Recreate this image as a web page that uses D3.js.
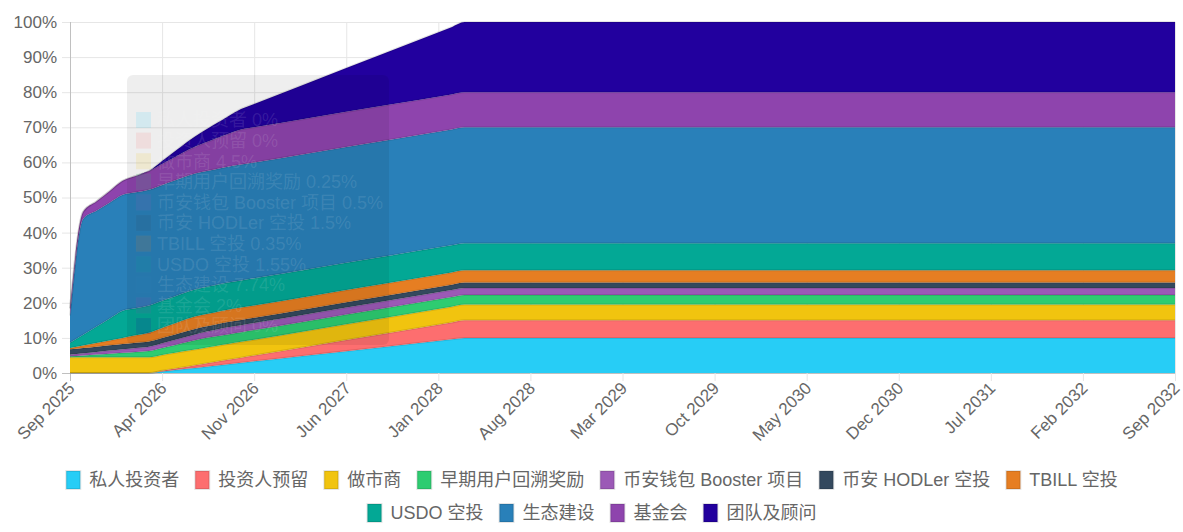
<!DOCTYPE html>
<html>
<head>
<meta charset="utf-8">
<script src="https://cdn.jsdelivr.net/npm/d3@7"></script>
<style>
  body { margin: 0; background: #fff; }
  svg { display: block; font-family: "Liberation Sans", Arial, "Noto Sans CJK SC", sans-serif; }
</style>
</head>
<body>
<svg id="chart" width="1183" height="532"></svg>
<script>
const months = [0, 1, 2, 3, 4, 5, 6, 7, 8, 9, 10, 11, 12, 13, 14, 18, 24, 29, 30, 84]

const tickMonths = [0, 7, 14, 21, 28, 35, 42, 49, 56, 63, 70, 77, 84]
const tickLabels = ["Sep 2025", "Apr 2026", "Nov 2026", "Jun 2027", "Jan 2028", "Aug 2028", "Mar 2029",
                    "Oct 2029", "May 2030", "Dec 2030", "Jul 2031", "Feb 2032", "Sep 2032"]

// unlocked share of total supply, % (bottom of the stack first)
const privateInvestors = [0, 0, 0, 0, 0, 0, 0, 0.42, 0.83, 1.25, 1.67, 2.08, 2.5, 2.92, 3.33, 5, 7.5, 9.58, 10, 10]
const investorReserve  = [0, 0, 0, 0, 0, 0, 0, 0.21, 0.42, 0.63, 0.83, 1.04, 1.25, 1.46, 1.67, 2.5, 3.75, 4.79, 5, 5]
const marketMaker      = [4.5, 4.5, 4.5, 4.5, 4.5, 4.5, 4.5, 4.5, 4.5, 4.5, 4.5, 4.5, 4.5, 4.5, 4.5, 4.5, 4.5, 4.5, 4.5, 4.5]
const earlyUsers       = [0.25, 0.5, 0.75, 1, 1.25, 1.5, 1.75, 2, 2.25, 2.5, 2.75, 2.75, 2.75, 2.75, 2.75, 2.75, 2.75, 2.75, 2.75, 2.75]
const walletBooster    = [0.5, 0.625, 0.75, 0.875, 1, 1.125, 1.25, 1.375, 1.5, 1.625, 1.75, 1.875, 2, 2, 2, 2, 2, 2, 2, 2]
const hodlerAirdrop    = [1.5, 1.5, 1.5, 1.5, 1.5, 1.5, 1.5, 1.5, 1.5, 1.5, 1.5, 1.5, 1.5, 1.5, 1.5, 1.5, 1.5, 1.5, 1.5, 1.5]
const tbillAirdrop     = [0.35, 0.7, 1.05, 1.4, 1.75, 2.1, 2.45, 2.8, 3.15, 3.5, 3.5, 3.5, 3.5, 3.5, 3.5, 3.5, 3.5, 3.5, 3.5, 3.5]
const usdoAirdrop      = [1.55, 3.1, 4.65, 6.2, 7.75, 7.75, 7.75, 7.75, 7.75, 7.75, 7.75, 7.75, 7.75, 7.75, 7.75, 7.75, 7.75, 7.75, 7.75, 7.75]
const ecosystem        = [7.74, 33, 33, 33, 33, 33, 33, 33, 33, 33, 33, 33, 33, 33, 33, 33, 33, 33, 33, 33]
const foundation       = [2, 2, 2.67, 3.33, 4, 4.67, 5.33, 6, 6.67, 7.33, 8, 8.67, 9.33, 10, 10, 10, 10, 10, 10, 10]
const teamAdvisors     = [0, 0, 0, 0, 0, 0, 0, 0.83, 1.67, 2.5, 3.33, 4.17, 5, 5.83, 6.67, 10, 15, 19.17, 20, 20]

const series = [
	{key: "private",  name: "私人投资者",           color: "#27cdf6", values: privateInvestors},
	{key: "reserve",  name: "投资人预留",           color: "#fd6e6f", values: investorReserve},
	{key: "mm",       name: "做市商",               color: "#f1c40f", values: marketMaker},
	{key: "early",    name: "早期用户回溯奖励",      color: "#2ecc71", values: earlyUsers},
	{key: "booster",  name: "币安钱包 Booster 项目", color: "#9b59b6", values: walletBooster},
	{key: "hodler",   name: "币安 HODLer 空投",      color: "#34495e", values: hodlerAirdrop},
	{key: "tbill",    name: "TBILL 空投",           color: "#e67e22", values: tbillAirdrop},
	{key: "usdo",     name: "USDO 空投",            color: "#03a895", values: usdoAirdrop},
	{key: "eco",      name: "生态建设",             color: "#2980b9", values: ecosystem},
	{key: "found",    name: "基金会",               color: "#8e44ad", values: foundation},
	{key: "team",     name: "团队及顾问",           color: "#22009e", values: teamAdvisors}
]

const svg = d3.select("#chart")
const plotL = 70, plotR = 1175, plotT = 22, plotB = 373

const x = d3.scaleLinear().domain([0, 84]).range([plotL, plotR])
const y = d3.scaleLinear().domain([0, 100]).range([plotB, plotT])

// rows for d3.stack
const table = months.map((m, i) => {
	let row = {month: m}
	series.forEach(s => { row[s.key] = s.values[i] })
	return row
})
const stacked = d3.stack().keys(series.map(s => s.key))(table)

// grid + axes (under the areas)
const yAxis = svg.append("g")
	.attr("transform", "translate(" + plotL + ",0)")
	.call(d3.axisLeft(y).tickValues(d3.range(0, 101, 10)).tickFormat(d => d + "%")
		.tickSizeInner(-(plotR - plotL)).tickSizeOuter(0).tickPadding(13))
yAxis.select(".domain").remove()
yAxis.selectAll(".tick line")
	.attr("x1", -8)
	.attr("stroke", d => d === 0 ? "#c0c0c0" : "#e6e6e6")
yAxis.selectAll(".tick text")
	.attr("fill", "#666").style("font-size", "17px")

const xAxis = svg.append("g")
	.attr("transform", "translate(0," + plotB + ")")
	.call(d3.axisBottom(x).tickValues(tickMonths).tickFormat((d, i) => tickLabels[i])
		.tickSizeInner(-(plotB - plotT)).tickSizeOuter(0))
xAxis.select(".domain").remove()
xAxis.selectAll(".tick line")
	.attr("y1", 8)
	.attr("stroke", d => d === 0 ? "#c0c0c0" : "#e6e6e6")
xAxis.selectAll(".tick text")
	.attr("fill", "#666").style("font-size", "17px")
	.attr("text-anchor", "end")
	.attr("transform", "translate(1,12) rotate(-45)")
	.attr("y", 0).attr("dy", "0.35em")

// stacked areas
const area = d3.area()
	.x(d => x(d.data.month))
	.y0(d => y(d[0]))
	.y1(d => y(d[1]))
	.curve(d3.curveMonotoneX)
const topLine = d3.line()
	.x(d => x(d.data.month))
	.y(d => y(d[1]))
	.curve(d3.curveMonotoneX)

const layers = svg.append("g")
layers.selectAll("path.area").data(stacked).join("path")
	.attr("class", "area")
	.attr("d", area)
	.attr("fill", (d, i) => series[i].color)
layers.selectAll("path.edge").data(stacked).join("path")
	.attr("class", "edge")
	.attr("d", topLine)
	.attr("fill", "none")
	.attr("stroke", "rgba(0,0,0,0.1)")
	.attr("stroke-width", 2)

// faded hover tooltip for Sep 2025
const fmt = v => (+v.toFixed(2)) + "%"
const tip = svg.append("g")
tip.append("rect")
	.attr("x", 127).attr("y", 75).attr("width", 262).attr("height", 270).attr("rx", 6)
	.attr("fill", "rgba(0,0,0,0.065)")
series.forEach((s, i) => {
	const cy = 120 + i * 20.6
	tip.append("rect")
		.attr("x", 136).attr("y", cy - 8).attr("width", 15).attr("height", 16)
		.attr("fill", s.color).attr("opacity", 0.13)
		.attr("stroke", "rgba(255,255,255,0.08)")
	tip.append("text")
		.attr("x", 157).attr("y", cy).attr("dy", "0.35em")
		.style("font-size", "18px")
		.attr("fill", "rgba(255,255,255,0.11)")
		.text(s.name + " " + fmt(s.values[0]))
})

// legend, two centred rows
const legend = svg.append("g")
const rows = [series.slice(0, 7), series.slice(7)]
const rowY = [480, 513]
const gap = 15
rows.forEach((items, r) => {
	const g = legend.append("g")
	let cx = 0
	items.forEach(s => {
		const item = g.append("g").attr("transform", "translate(" + cx + ",0)")
		item.append("rect")
			.attr("x", 1).attr("y", -9).attr("width", 14).attr("height", 18)
			.attr("fill", s.color)
			.attr("stroke", "rgba(0,0,0,0.1)").attr("stroke-width", 2)
		const t = item.append("text")
			.attr("x", 24).attr("y", 0).attr("dy", "0.35em")
			.style("font-size", "18px").attr("fill", "#666")
			.text(s.name)
		cx += 24 + t.node().getComputedTextLength() + gap
	})
	const w = cx - gap
	g.attr("transform", "translate(" + ((1183 - w) / 2) + "," + rowY[r] + ")")
})
</script>
</body>
</html>
